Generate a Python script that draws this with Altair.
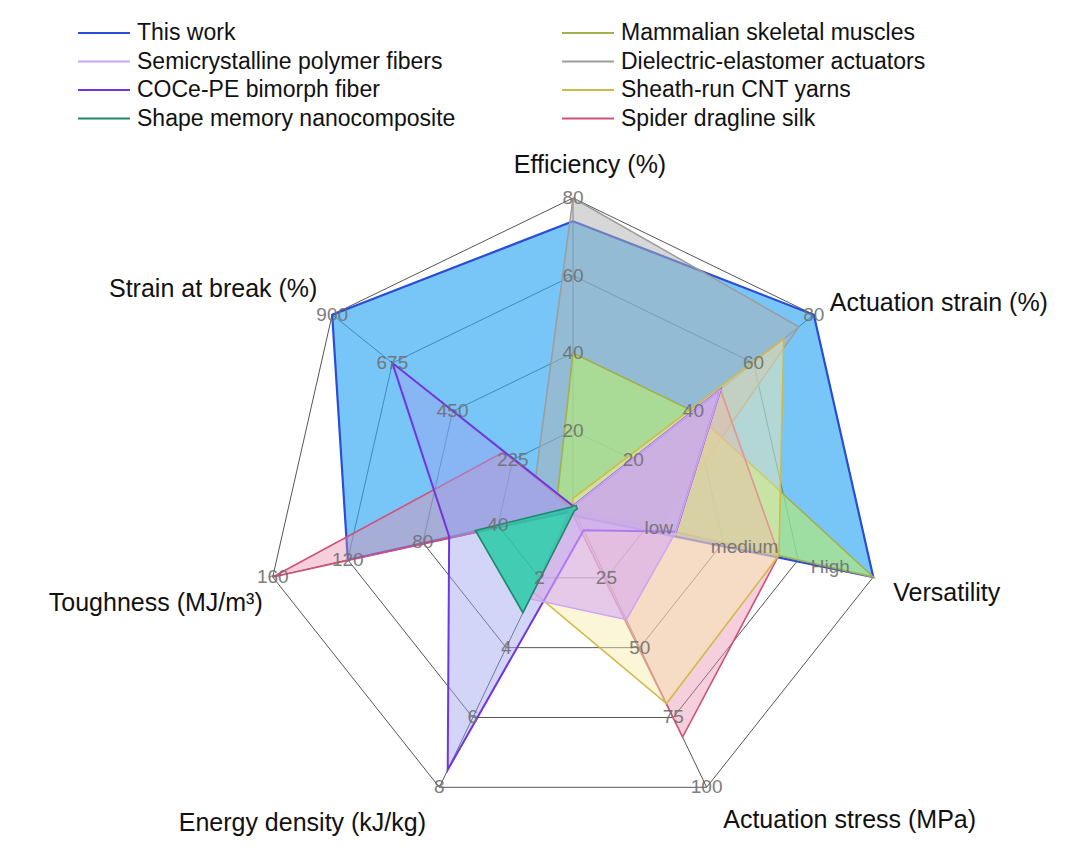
import altair as alt
import pandas as pd
import numpy as np

# ---------------- data ----------------
axes = ["Efficiency (%)", "Actuation strain (%)", "Versatility", "Actuation stress (MPa)",
        "Energy density (kJ/kg)", "Toughness (MJ/m³)", "Strain at break (%)"]
axis_max = [80, 80, 3.5, 100, 8, 160, 900]
tick_values = [[20, 40, 60, 80], [20, 40, 60, 80], [1, 2, 3], [25, 50, 75, 100],
               [2, 4, 6, 8], [40, 80, 120, 160], [225, 450, 675, 900]]
tick_labels = [["20", "40", "60", "80"], ["20", "40", "60", "80"], ["low", "medium", "High"],
               ["25", "50", "75", "100"], ["2", "4", "6", "8"], ["40", "80", "120", "160"],
               ["225", "450", "675", "900"]]

series = ["This work", "Semicrystalline polymer fibers", "COCe-PE bimorph fiber",
          "Shape memory nanocomposite", "Mammalian skeletal muscles",
          "Dielectric-elastomer actuators", "Sheath-run CNT yarns", "Spider dragline silk"]

this_work = [74, 80, 3.5, 3, 0.1, 120, 900]
semicrystalline = [0.5, 49, 1.2, 40, 2.6, 1, 5]
coce_pe = [0.5, 49, 1.2, 8, 7.5, 66, 675]
shape_memory = [0.5, 1, 0.05, 1, 3.0, 52, 5]
mammalian = [40, 40, 3.5, 0.35, 0.05, 1, 58]
dielectric = [80, 75, 1.0, 2, 0.2, 1, 140]
cnt_yarns = [2.5, 70, 2.4, 70, 2.4, 1, 2]
spider_silk = [0.5, 49, 2.4, 82, 0.1, 160, 260]

values = [this_work, semicrystalline, coce_pe, shape_memory, mammalian, dielectric, cnt_yarns, spider_silk]

stroke_colors = ["#2B4CD6", "#CDA6F2", "#7035E0", "#21876A", "#A3B04C", "#9C9C9C", "#D0BA48", "#D24F7C"]
fill_colors = ["#2FA8F5", "#D7AAF5", "#9BA0F0", "#1FC9A2", "#B3EB75", "#B0B0B0", "#F8EAA8", "#E88CAA"]
fill_opacity = [0.65, 0.60, 0.45, 0.80, 0.65, 0.50, 0.45, 0.42]
stroke_widths = [2.2, 1.5, 2.0, 1.6, 1.6, 1.5, 1.6, 1.6]
draw_order = [0, 5, 4, 7, 6, 2, 1, 3]

# ---------------- layout ----------------
W, H = 1050, 840
cx, cy = 565, 500
Rx, Ry = 308, 310
n = len(axes)
theta = [2 * np.pi * k / n for k in range(n)]


def pos(k, f):
    return cx + Rx * f * np.sin(theta[k]), cy - Ry * f * np.cos(theta[k])


xs = alt.Scale(domain=[0, W], nice=False, zero=False)
ys = alt.Scale(domain=[H, 0], nice=False, zero=False)
X = lambda f: alt.X(f, type="quantitative", scale=xs, axis=None)
Y = lambda f: alt.Y(f, type="quantitative", scale=ys, axis=None)

layers = []

# grid rings
ring_rows = []
for lv in [0.25, 0.5, 0.75, 1.0]:
    for i in range(n + 1):
        x, y = pos(i % n, lv)
        ring_rows.append({"level": lv, "i": i, "x": x, "y": y})
rings = pd.DataFrame(ring_rows)
layers.append(alt.Chart(rings).mark_line(color="#555555", strokeWidth=1).encode(
    x=X("x"), y=Y("y"), detail="level:N", order="i:Q"))

# spokes
spoke_rows = []
for k in range(n):
    x, y = pos(k, 1.0)
    spoke_rows.append({"x": cx, "y": cy, "x2": x, "y2": y})
spokes = pd.DataFrame(spoke_rows)
layers.append(alt.Chart(spokes).mark_rule(color="#555555", strokeWidth=1).encode(
    x=X("x"), y=Y("y"), x2="x2", y2="y2"))

# series polygons
for s in draw_order:
    rows = []
    for i in range(n + 1):
        k = i % n
        f = values[s][k] / axis_max[k]
        x, y = pos(k, f)
        rows.append({"series": series[s], "i": i, "x": x, "y": y})
    df = pd.DataFrame(rows)
    layers.append(alt.Chart(df).mark_line(
        fill=fill_colors[s], fillOpacity=fill_opacity[s], stroke=stroke_colors[s],
        strokeWidth=stroke_widths[s], strokeJoin="miter").encode(
        x=X("x"), y=Y("y"), order="i:Q"))

# tick labels
tick_rows = []
for k in range(n):
    for v, lab in zip(tick_values[k], tick_labels[k]):
        x, y = pos(k, v / axis_max[k])
        tick_rows.append({"x": x, "y": y, "label": lab})
ticks = pd.DataFrame(tick_rows)
layers.append(alt.Chart(ticks).mark_text(
    font="Liberation Sans", fontSize=19, color="#707070", opacity=0.9,
    align="center", baseline="middle").encode(x=X("x"), y=Y("y"), text="label:N"))

# axis titles
title_off = [(17, -33), (16, -12), (20, 16), (143, 33), (-137, 36), (-10, 26), (-119, -26)]
title_align = ["center", "left", "left", "center", "center", "right", "center"]
title_rows = []
for k in range(n):
    x, y = pos(k, 1.0)
    title_rows.append({"x": x + title_off[k][0], "y": y + title_off[k][1],
                       "label": axes[k], "align": title_align[k]})
titles = pd.DataFrame(title_rows)
for al in ["center", "left", "right"]:
    layers.append(alt.Chart(titles[titles["align"] == al]).mark_text(
        font="Liberation Sans", fontSize=25, color="#111111", align=al,
        baseline="middle").encode(x=X("x"), y=Y("y"), text="label:N"))

# legend (two columns, four rows)
leg_x0 = [70, 554]
leg_y0 = 25
leg_dy = 28.5
leg_len = 52
leg_rows = []
for s in range(len(series)):
    col, row = s // 4, s % 4
    leg_rows.append({"series": series[s], "x": leg_x0[col], "x2": leg_x0[col] + leg_len,
                     "tx": leg_x0[col] + leg_len + 7, "y": leg_y0 + row * leg_dy,
                     "color": stroke_colors[s]})
leg = pd.DataFrame(leg_rows)
layers.append(alt.Chart(leg).mark_rule(strokeWidth=2).encode(
    x=X("x"), x2="x2", y=Y("y"),
    color=alt.Color("color:N", scale=None)))
layers.append(alt.Chart(leg).mark_text(
    font="Liberation Sans", fontSize=23, color="#111111", align="left", baseline="middle").encode(
    x=X("tx"), y=Y("y"), text="series:N"))

chart = alt.layer(*layers).properties(width=W, height=H, padding=0).configure_view(strokeWidth=0)
chart.save("out.html", embed_options={"renderer": "svg", "actions": False})
